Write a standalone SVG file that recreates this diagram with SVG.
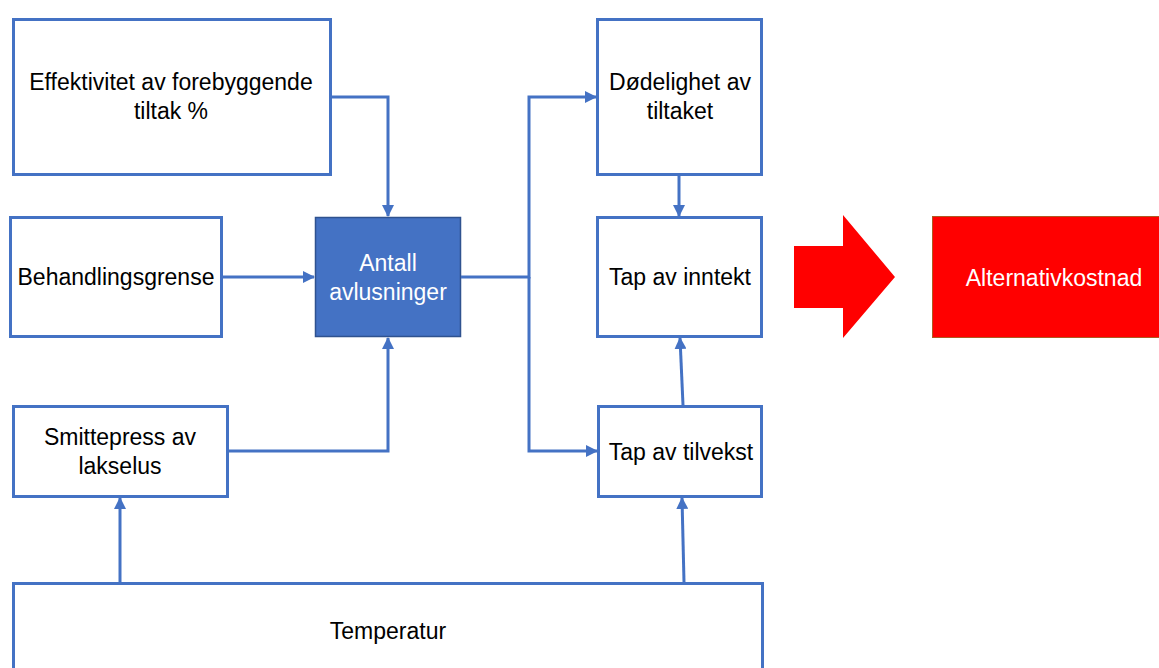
<svg xmlns="http://www.w3.org/2000/svg" width="1159" height="668" viewBox="0 0 1159 668">
  <style>
    .box { fill: #ffffff; stroke: #4472C4; stroke-width: 3; }
    .blue { fill: #4472C4; stroke: #2F528F; stroke-width: 1.5; }
    .red { fill: #FF0000; stroke: #AE5A21; stroke-width: 1; }
    .t { font-family: "Liberation Sans", Arial, sans-serif; font-size: 23px; fill: #000000; text-anchor: middle; }
    .w { fill: #ffffff; }
    .c { fill: none; stroke: #4472C4; stroke-width: 3; }
  </style>
  <defs>
    <marker id="ah" markerUnits="userSpaceOnUse" markerWidth="12" markerHeight="12" refX="11" refY="6" orient="auto">
      <path d="M0,0 L12,6 L0,12 z" fill="#4472C4"/>
    </marker>
  </defs>
  <rect width="1159" height="668" fill="#ffffff"/>

  <g id="effektivitet">
    <rect class="box" x="13.5" y="19.5" width="317" height="155"/>
    <text class="t" x="171" y="90">Effektivitet av forebyggende</text>
    <text class="t" x="171" y="119">tiltak %</text>
  </g>
  <g id="behandlingsgrense">
    <rect class="box" x="10.5" y="217.5" width="211" height="119"/>
    <text class="t" x="116" y="285">Behandlingsgrense</text>
  </g>
  <g id="antall">
    <rect class="blue" x="315.5" y="217.5" width="145" height="119"/>
    <text class="t w" x="388" y="271">Antall</text>
    <text class="t w" x="388" y="300">avlusninger</text>
  </g>
  <g id="smittepress">
    <rect class="box" x="13.5" y="406.5" width="214" height="90"/>
    <text class="t" x="120" y="445">Smittepress av</text>
    <text class="t" x="120" y="474">lakselus</text>
  </g>
  <g id="dodelighet">
    <rect class="box" x="597.5" y="19.5" width="164" height="155"/>
    <text class="t" x="680" y="90">Dødelighet av</text>
    <text class="t" x="680" y="119">tiltaket</text>
  </g>
  <g id="tap-inntekt">
    <rect class="box" x="597.5" y="217.5" width="164" height="119"/>
    <text class="t" x="680" y="285">Tap av inntekt</text>
  </g>
  <g id="tap-tilvekst">
    <rect class="box" x="598.5" y="406.5" width="163" height="90"/>
    <text class="t" x="681" y="460">Tap av tilvekst</text>
  </g>
  <g id="temperatur">
    <rect class="box" x="13.5" y="583.5" width="749" height="100"/>
    <text class="t" x="388" y="639">Temperatur</text>
  </g>
  <g id="stor-pil">
    <polygon points="794,246 843,246 843,215 895,277 843,338 843,308 794,308" fill="#FF0000"/>
  </g>
  <g id="alternativkostnad">
    <rect class="red" x="932.5" y="216.5" width="230" height="121"/>
    <text class="t w" x="1054" y="286">Alternativkostnad</text>
  </g>

  <g id="connectors">
    <path class="c" d="M331,97 H388 V216" marker-end="url(#ah)"/>
    <path class="c" d="M222,277 H314" marker-end="url(#ah)"/>
    <path class="c" d="M228,451 H388 V338" marker-end="url(#ah)"/>
    <path class="c" d="M461,277 H529 V97 H596" marker-end="url(#ah)"/>
    <path class="c" d="M529,277 V451 H597" marker-end="url(#ah)"/>
    <path class="c" d="M679,175 V216" marker-end="url(#ah)"/>
    <path class="c" d="M683,405 L680,338" marker-end="url(#ah)"/>
    <path class="c" d="M120,582 V498" marker-end="url(#ah)"/>
    <path class="c" d="M684,582 L682,498" marker-end="url(#ah)"/>
  </g>
</svg>
